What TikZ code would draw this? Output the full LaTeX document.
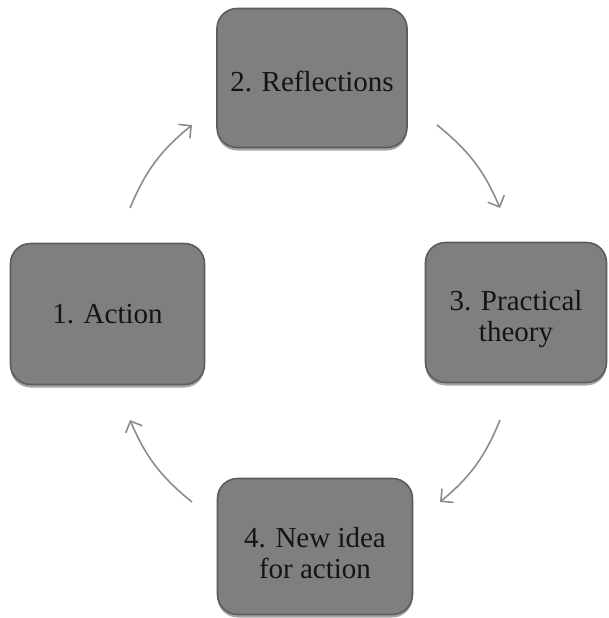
\documentclass[tikz,border=0pt]{standalone}
\usepackage{fontspec}
\setmainfont{Liberation Serif}
\newfontfamily\boxfont{Liberation Serif}
\usetikzlibrary{arrows.meta,shadows}
\definecolor{boxfill}{HTML}{7F7F7F}
\definecolor{boxedge}{HTML}{5C5C5C}
\definecolor{arrowc}{HTML}{8C8C8C}
\definecolor{txt}{HTML}{141414}
\newcommand{\twolines}[3]{\begin{tabular}{@{}c@{}}\rule{0pt}{#1}#2\\#3\end{tabular}}
\begin{document}
\begin{tikzpicture}[x=1pt,y=-1pt,
  stagebox/.style={draw=boxedge, line width=1.6pt, fill=boxfill, rounded corners=20pt,
    inner sep=0pt, align=center, text=txt,
    font=\boxfont\fontsize{29}{31}\selectfont,
    drop shadow={shadow xshift=0pt, shadow yshift=-3pt, opacity=0.35, fill=black}},
  cyc/.style={draw=arrowc, line width=1.6pt, -{Straight Barb[length=9pt,width=18pt,line width=1.6pt]}}
]
\useasboundingbox (0,0) rectangle (609,618);
\node[stagebox, minimum width=194pt, minimum height=141pt] (n1) at (107.5,314) {1. Action};
\node[stagebox, minimum width=190pt, minimum height=139pt] (n2) at (312,78) {\rule{0pt}{28pt}2. Reflections};
\node[stagebox, minimum width=181pt, minimum height=140pt] (n3) at (516,312.5) {\twolines{36pt}{3. Practical}{theory}};
\node[stagebox, minimum width=195pt, minimum height=136pt] (n4) at (315,546.5) {\twolines{42pt}{4. New idea}{for action}};
\coordinate (a1s) at (130,208);
\coordinate (a1e) at (192,125);
\coordinate (a2s) at (437,125);
\coordinate (a2e) at (500,208);
\coordinate (a3s) at (500,420);
\coordinate (a3e) at (440,502);
\coordinate (a4s) at (192,502);
\coordinate (a4e) at (130,420);
\draw[cyc] (a1s) to[bend left=14] (a1e);
\draw[cyc] (a2s) to[bend left=14] (a2e);
\draw[cyc] (a3s) to[bend left=14] (a3e);
\draw[cyc] (a4s) to[bend left=14] (a4e);
\end{tikzpicture}
\end{document}
